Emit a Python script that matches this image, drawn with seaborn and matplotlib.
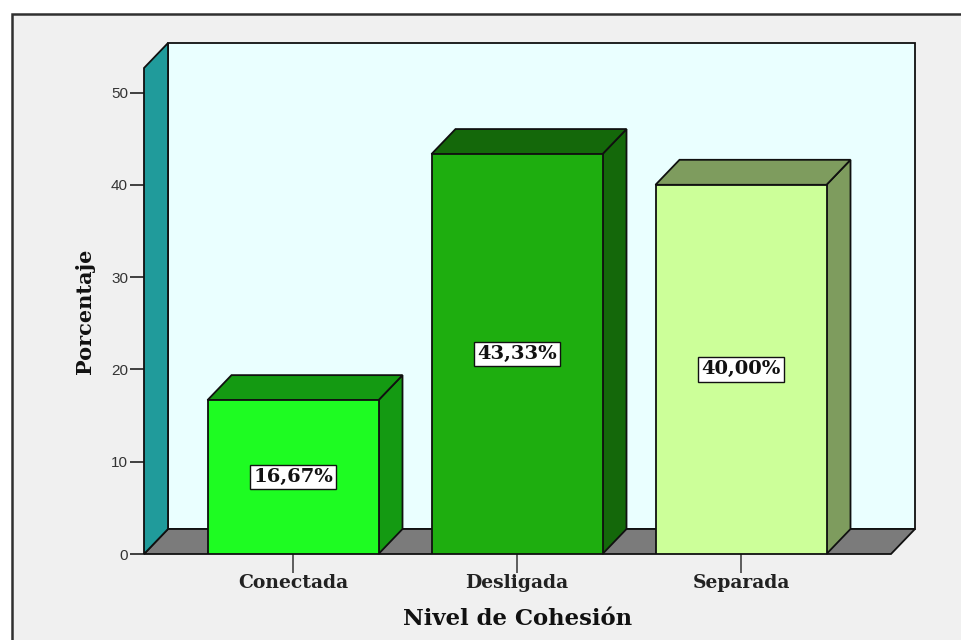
import matplotlib
matplotlib.use("Agg")
import matplotlib.pyplot as plt
from matplotlib.patches import Rectangle
import seaborn as sns
import pandas as pd

categories = ["Conectada", "Desligada", "Separada"]
values = [16.67, 43.33, 40.00]
labels = ["16,67%", "43,33%", "40,00%"]
front_colors = ["#1EFC22", "#1EAE0F", "#CCFF99"]
dark_colors = ["#149A12", "#14680A", "#7E9C5E"]
y_ticks = [0, 10, 20, 30, 40, 50]

W, H = 961, 640
sns.set_theme(style="white")
SERIF = ["DejaVu Serif"]
fig = plt.figure(figsize=(W / 100, H / 100), dpi=100, facecolor="white")
fig.add_artist(Rectangle((11.5 / W, -0.02), 1.02, 1 - 14 / H + 0.02, transform=fig.transFigure,
                         facecolor="#F0F0F0", edgecolor="#303030", linewidth=1.8, zorder=-5))

L, R, T, B = 144, 891, 68, 554
ax = fig.add_axes([L / W, 1 - B / H, (R - L) / W, (B - T) / H])
ax.patch.set_visible(False)
ppx = 224.0
ppy = 9.23
xmin, xmax = (L - 293) / ppx, (R - 293) / ppx
ymax = (B - T) / ppy
dx, dy = 24 / ppx, 25 / ppy
lw = 1.3
ec = "#101010"


def face(xs, ys, color, z):
    ax.fill(xs, ys, facecolor=color, edgecolor=ec, linewidth=lw, zorder=z,
            clip_on=False, joinstyle="miter")


face([xmin + dx, xmax + dx, xmax + dx, xmin + dx], [dy, dy, ymax + dy, ymax + dy], "#EAFFFF", 1)
face([xmin, xmax, xmax + dx, xmin + dx], [0, 0, dy, dy], "#7B7B7B", 1.1)
face([xmin, xmin + dx, xmin + dx, xmin], [0, dy, ymax + dy, ymax], "#209B9B", 1.2)

df = pd.DataFrame({"cat": categories, "val": values})
bw = 171 / ppx
sns.barplot(data=df, x="cat", y="val", hue="cat", palette=front_colors, legend=False,
            width=bw, ax=ax, saturation=1, edgecolor=ec, linewidth=lw, zorder=4)

for i, v in enumerate(values):
    x0, x1 = i - bw / 2, i + bw / 2
    face([x1, x1 + dx, x1 + dx, x1], [0, dy, v + dy, v], dark_colors[i], 3)
    face([x0, x1, x1 + dx, x0 + dx], [v, v, v + dy, v + dy], dark_colors[i], 3)
    ax.text(i, v / 2, labels[i], ha="center", va="center", fontsize=14, fontweight="bold",
            family=SERIF, color="#111111", zorder=6,
            bbox=dict(boxstyle="square,pad=0.16", facecolor="white", edgecolor="#111111", linewidth=1))

ax.set_xlim(xmin, xmax)
ax.set_ylim(0, ymax)
ax.set_yticks(y_ticks)
ax.set_xticks(range(len(categories)))
ax.set_xticklabels(categories, family=SERIF, fontweight="bold", fontsize=13.5, color="#222222")
ax.tick_params(axis="y", direction="out", length=10, width=1.2, color="#222222", labelsize=11,
               labelcolor="#333333", pad=1.5, left=True)
ax.tick_params(axis="x", direction="out", length=14, width=1.2, color="#444444", pad=0.5, bottom=True)
for lab in ax.get_yticklabels():
    lab.set_family(["Liberation Sans"])
for s in ["top", "right", "left", "bottom"]:
    ax.spines[s].set_visible(False)
ax.set_xlabel("")
ax.set_ylabel("")
fig.text(518 / W, 1 - 619 / H, "Nivel de Cohesión", ha="center", va="center", family=SERIF,
         fontweight="bold", fontsize=16.4, color="#111111")
fig.text(85 / W, 1 - 311 / H, "Porcentaje", rotation=90, ha="center", va="center", family=SERIF,
         fontweight="bold", fontsize=15, color="#111111")
fig.savefig("out.png", dpi=100, facecolor="white")
